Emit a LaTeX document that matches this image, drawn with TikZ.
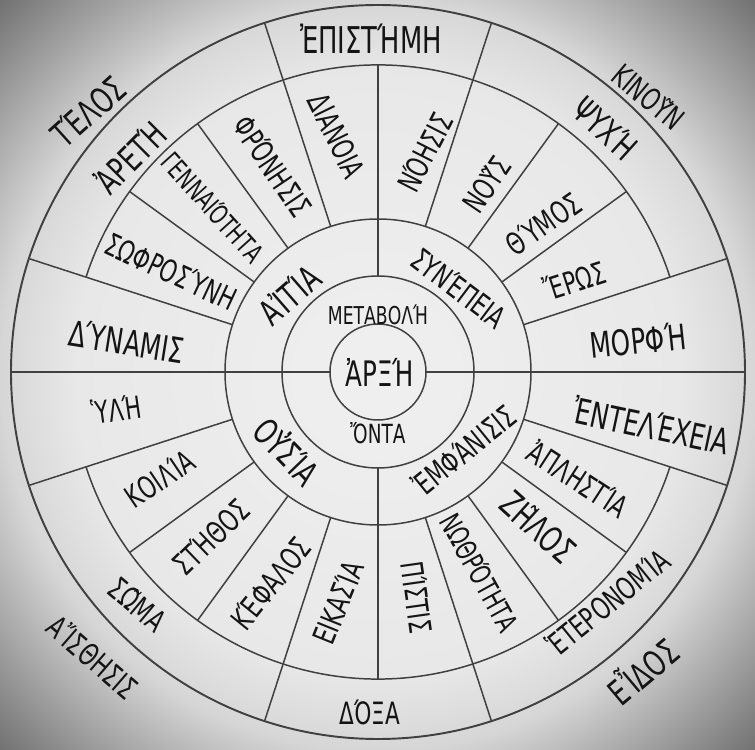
\documentclass[tikz,border=0pt]{standalone}
\usepackage{fontspec}
\setmainfont{DejaVu Sans}[FakeStretch=0.7]
\pgfdeclareradialshading{paper}{\pgfpoint{0bp}{0bp}}{color(0bp)=(black!6); color(20bp)=(black!9); color(25bp)=(black!16); color(36bp)=(black!58); color(50bp)=(black!58)}

\begin{document}
\begin{tikzpicture}[x=0.02cm, y=0.02cm, line width=0.85pt,
    every node/.style={text=black!92, inner sep=0pt, font=\fontsize{17.5}{17.5}\selectfont},
    pencil/.style={draw=black!75},
    big/.style={font=\fontsize{20}{20}\selectfont},
    small/.style={font=\fontsize{14}{14}\selectfont}]
    % 1. 纸面背景
    \shade[shading=paper] (-378,-378) rectangle (377,372);
    \useasboundingbox (-378,-378) rectangle (377,372);

    % 2. 同心圆与外环弧线
    \draw[pencil] (0,0) circle (48);
    \draw[pencil] (0,0) circle (96);
    \draw[pencil] (0,0) circle (153);
    \draw[pencil, line width=1.1pt] (0,0) circle (367);
    \draw[pencil] (18:307) arc[start angle=18, end angle=162, radius=307];
    \draw[pencil] (198:307) arc[start angle=198, end angle=342, radius=307];

    % 3. 十字分隔线
    \draw[pencil] (180:367) -- (180:48);
    \draw[pencil] (0:48) -- (0:367);
    \draw[pencil] (90:96) -- (90:307);
    \draw[pencil] (270:96) -- (270:307);

    % 4. 扇形分隔线 (通到外圆)
    \draw[pencil] (18:153) -- (18:367);
    \draw[pencil] (72:153) -- (72:367);
    \draw[pencil] (108:153) -- (108:367);
    \draw[pencil] (162:153) -- (162:367);
    \draw[pencil] (198:153) -- (198:367);
    \draw[pencil] (252:153) -- (252:367);
    \draw[pencil] (288:153) -- (288:367);
    \draw[pencil] (342:153) -- (342:367);

    % 5. 扇形分隔线 (只到中环)
    \draw[pencil] (36:153) -- (36:307);
    \draw[pencil] (54:153) -- (54:307);
    \draw[pencil] (126:153) -- (126:307);
    \draw[pencil] (144:153) -- (144:307);
    \draw[pencil] (216:153) -- (216:307);
    \draw[pencil] (234:153) -- (234:307);
    \draw[pencil] (306:153) -- (306:307);
    \draw[pencil] (324:153) -- (324:307);

    % 6. 圆心与内两环
    \node[big] (arxe) at (2,0) {ἈΡΞΉ};
    \node[small] (metabole) at (90:57) {ΜΕΤΑΒΟΛΉ};
    \node[font=\fontsize{15}{15}\selectfont] (onta) at (270:61) {ὌΝΤΑ};
    \node[big, rotate=41] (aitia) at (139:118) {ΑἸΤΊΑ};
    \node[rotate=-37] (synepeia) at (46:117) {ΣΥΝΈΠΕΙΑ};
    \node[big, rotate=-46] (ousia) at (221:120) {ΟΥ̓ΣΊΑ};
    \node[rotate=39] (emfanisis) at (318:116) {ἘΜΦΆΝΙΣΙΣ};

    % 7. 左上象限
    \node[rotate=-64] (dianoia) at (100:240) {ΔΙΑΝΟΙΑ};
    \node[rotate=-56] (fronesis) at (117:231) {ΦΡΌΝΗΣΙΣ};
    \node[font=\fontsize{15.5}{15.5}\selectfont, rotate=-48] (gennaiotes) at (135:233) {ΓΕΝΝΑΙΌΤΗΤΑ};
    \node[rotate=-25] (sofrosyne) at (154:230) {ΣΩΦΡΟΣΎΝΗ};
    \node[big, rotate=-9] (dynamis) at (173:253) {ΔΎΝΑΜΙΣ};
    \node[big, rotate=45] (arete) at (139:328) {ἈΡΕΤΉ};
    \node[big, rotate=42] (telos) at (138:390) {ΤΈΛΟΣ};
    \node[font=\fontsize{21}{21}\selectfont] (episteme) at (-7,333) {ἘΠΙΣΤΉΜΗ};

    % 8. 右上象限
    \node[rotate=63] (noesis) at (78:225) {ΝΌΗΣΙΣ};
    \node[rotate=56] (nous) at (60:217) {ΝΟΥ͂Σ};
    \node[rotate=35] (thymos) at (42:222) {ΘΎΜΟΣ};
    \node[rotate=18] (eros) at (25:217) {ἜΡΩΣ};
    \node[big, rotate=6] (morfe) at (7:262) {ΜΟΡΦΉ};
    \node[big, rotate=-42] (psyche) at (47:334) {ΨΥΧΉ};
    \node[rotate=-40] (kinoun) at (45.5:386) {ΚΙΝΟΥ͂Ν};

    % 9. 右下象限
    \node[big, rotate=-12] (entelecheia) at (349:279) {ἘΝΤΕΛΈΧΕΙΑ};
    \node[rotate=-33] (aplestia) at (332:227) {ἈΠΛΗΣΤΊΑ};
    \node[big, rotate=-42] (zelos) at (316:223) {ΖΗ͂ΛΟΣ};
    \node[font=\fontsize{16.5}{16.5}\selectfont, rotate=-61] (nothrotes) at (297:225) {ΝΩΘΡΌΤΗΤΑ};
    \node[rotate=-82] (pistis) at (280:229) {ΠΊΣΤΙΣ};
    \node[rotate=39] (heteronomia) at (315:325) {ἙΤΕΡΟΝΟΜΊΑ};
    \node[big, rotate=40] (eidos) at (311.5:398) {ΕἾΔΟΣ};
    \node (doxa) at (-8,-340) {ΔΌΞΑ};

    % 10. 左下象限
    \node[rotate=68] (eikasia) at (260:234) {ΕΙΚΑΣΊΑ};
    \node[rotate=51] (kefalos) at (243:237) {ΚΈΦΑΛΟΣ};
    \node[rotate=44] (stethos) at (224.5:235) {ΣΤΉΘΟΣ};
    \node[rotate=34] (koilia) at (206:243) {ΚΟΙΛΊΑ};
    \node[rotate=8] (hyle) at (188:264) {ὙΛΉ};
    \node[rotate=-40] (soma) at (224:334) {ΣΩ͂ΜΑ};
    \node[rotate=-41] (aisthesis) at (225:403) {ΑἼΣΘΗΣΙΣ};
\end{tikzpicture}
\end{document}
